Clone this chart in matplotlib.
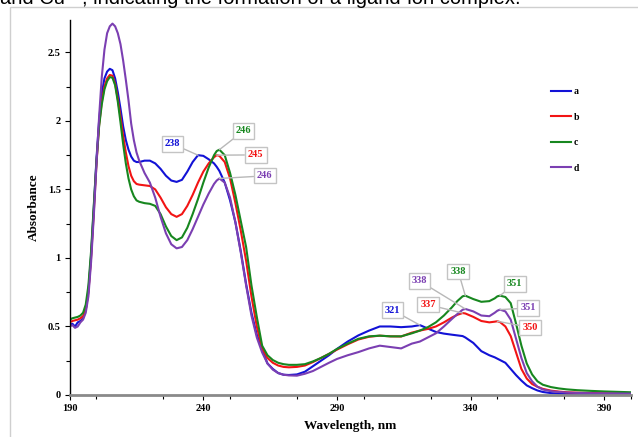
import numpy as np
import matplotlib
matplotlib.use("Agg")
import matplotlib.pyplot as plt
from matplotlib.patches import Rectangle
from matplotlib.ticker import MultipleLocator

# wavelength grid (nm) and absorbance of the four solutions
wavelength = [190, 191, 192, 193, 194, 195, 196, 197, 198, 199, 200, 201, 202, 203,
              204, 205, 206, 207, 208, 209, 210, 211, 212, 213, 214, 215, 216,
              218, 220, 222, 224, 226, 228, 230, 232, 234, 236, 238, 240, 242, 244,
              245, 246,
              248, 250, 252, 254, 256, 258, 260, 262, 264, 266, 268, 270, 272,
              275, 278, 281, 284, 287, 290,
              294, 298, 302, 306, 310, 314, 318,
              321, 324, 327, 330, 333,
              335, 337, 338,
              341, 344, 347,
              349, 350, 351,
              353, 355, 357, 359, 361, 363, 365, 367,
              370, 373, 376,
              380, 385, 390, 395, 400]

abs_a = [0.51, 0.52, 0.50, 0.53, 0.54, 0.56, 0.62, 0.76, 1.02, 1.36, 1.72, 2.00, 2.20, 2.31,
         2.36, 2.38, 2.37, 2.31, 2.21, 2.09, 1.96, 1.86, 1.79, 1.74, 1.71, 1.70, 1.70,
         1.71, 1.71, 1.69, 1.65, 1.60, 1.565, 1.555, 1.57, 1.63, 1.70, 1.75, 1.745, 1.72, 1.69,
         1.665, 1.635,
         1.55, 1.42, 1.26, 1.05, 0.81, 0.60, 0.44, 0.33, 0.23, 0.19, 0.16, 0.148, 0.146,
         0.15, 0.17, 0.21, 0.25, 0.29, 0.336,
         0.39, 0.435, 0.47, 0.50, 0.50, 0.495, 0.50,
         0.51, 0.485, 0.46, 0.448, 0.44,
         0.435, 0.43, 0.42,
         0.38, 0.32, 0.29,
         0.275, 0.265, 0.255,
         0.235, 0.19, 0.145, 0.105, 0.07, 0.05, 0.033, 0.022,
         0.014, 0.01, 0.008,
         0.006, 0.005, 0.005, 0.005, 0.005]

abs_b = [0.53, 0.54, 0.545, 0.55, 0.56, 0.575, 0.62, 0.75, 1.00, 1.33, 1.68, 1.97, 2.14, 2.25,
         2.31, 2.335, 2.33, 2.27, 2.16, 2.03, 1.89, 1.77, 1.67, 1.60, 1.56, 1.54, 1.535,
         1.53, 1.525, 1.50, 1.44, 1.37, 1.32, 1.30, 1.32, 1.38, 1.46, 1.55, 1.63, 1.69, 1.735,
         1.75, 1.745,
         1.70, 1.58, 1.40, 1.20, 0.98, 0.72, 0.50, 0.34, 0.27, 0.235, 0.215, 0.205, 0.202,
         0.205, 0.215, 0.24, 0.27, 0.30, 0.331,
         0.37, 0.405, 0.425, 0.433, 0.428, 0.427, 0.455,
         0.47, 0.482, 0.50, 0.53, 0.565,
         0.585, 0.598, 0.595,
         0.57, 0.54, 0.53,
         0.535, 0.538, 0.532,
         0.50, 0.43, 0.31, 0.19, 0.12, 0.08, 0.06, 0.045,
         0.032, 0.025, 0.02,
         0.017, 0.015, 0.013, 0.012, 0.012]

abs_c = [0.55, 0.56, 0.565, 0.57, 0.58, 0.60, 0.66, 0.80, 1.05, 1.38, 1.70, 1.96, 2.12, 2.23,
         2.29, 2.32, 2.315, 2.26, 2.14, 1.99, 1.83, 1.69, 1.58, 1.50, 1.45, 1.42, 1.41,
         1.40, 1.395, 1.38, 1.32, 1.23, 1.16, 1.13, 1.15, 1.22, 1.32, 1.43, 1.55, 1.66, 1.75,
         1.78, 1.79,
         1.75, 1.62, 1.46, 1.27, 1.08, 0.80, 0.57, 0.36, 0.29, 0.255, 0.235, 0.225, 0.22,
         0.22, 0.225, 0.245, 0.27, 0.30, 0.336,
         0.375, 0.41, 0.428, 0.433, 0.428, 0.428, 0.45,
         0.47, 0.495, 0.53, 0.58, 0.64,
         0.685, 0.72, 0.725,
         0.70, 0.68, 0.685,
         0.705, 0.72, 0.725,
         0.715, 0.67, 0.52, 0.36, 0.23, 0.15, 0.10, 0.075,
         0.058, 0.048, 0.041,
         0.035, 0.03, 0.026, 0.023, 0.02]

abs_d = [0.50, 0.51, 0.49, 0.50, 0.53, 0.55, 0.60, 0.72, 0.97, 1.30, 1.68, 2.03, 2.32, 2.52,
         2.64, 2.69, 2.71, 2.69, 2.64, 2.56, 2.44, 2.30, 2.15, 1.98, 1.86, 1.77, 1.71,
         1.62, 1.55, 1.44, 1.30, 1.18, 1.10, 1.07, 1.08, 1.13, 1.21, 1.30, 1.39, 1.47, 1.54,
         1.565, 1.58,
         1.55, 1.44, 1.26, 1.04, 0.80, 0.58, 0.42, 0.31, 0.23, 0.185, 0.16, 0.148, 0.143,
         0.141, 0.155, 0.175, 0.205, 0.235, 0.263,
         0.29, 0.313, 0.34, 0.36, 0.35, 0.34, 0.375,
         0.39, 0.42, 0.45, 0.50, 0.555,
         0.59, 0.622, 0.628,
         0.61, 0.58, 0.575,
         0.60, 0.615, 0.623,
         0.61, 0.55, 0.41, 0.27, 0.16, 0.10, 0.06, 0.04,
         0.028, 0.022, 0.018,
         0.015, 0.013, 0.012, 0.011, 0.01]

series_names = ["a", "b", "c", "d"]
series_values = [abs_a, abs_b, abs_c, abs_d]
colors = ["#1212d6", "#f21414", "#17871f", "#7b3fb2"]

# labelled band maxima: (series index, wavelength)
peak_series = [0, 2, 1, 3, 0, 3, 2, 1, 2, 3, 1]
peak_nm = [238, 246, 245, 246, 321, 338, 338, 337, 351, 351, 350]
# where each label box sits (data coordinates)
label_xy = [(228.5, 1.832), (255.0, 1.927), (259.6, 1.752), (263.0, 1.599),
            (310.8, 0.620), (320.9, 0.832), (335.4, 0.900), (324.1, 0.659),
            (356.5, 0.810), (361.6, 0.635), (362.3, 0.493)]

W, H = 638, 437
fig = plt.figure(figsize=(W / 100, H / 100), dpi=100)

fig.text(0.0, 1 - 4 / H, "and Cu²⁺, indicating the formation of a ligand-ion complex.",
         family=["Liberation Sans", "DejaVu Sans"], fontsize=14.5, va="baseline", ha="left")
fig.patches.append(Rectangle((10 / W, -0.1), 1.2, 1.1 - 7 / H, transform=fig.transFigure,
                             fill=False, edgecolor="#cfcfcf", lw=1))

ax = fig.add_axes([69.7 / W, 42 / H, (631 - 69.7) / W, (395 - 19.5) / H])
serif = ["Liberation Serif", "DejaVu Serif"]

for name, vals, col in zip(series_names, series_values, colors):
    ax.plot(wavelength, vals, color=col, lw=1.5, label=name)

for si, nm, (tx, ty) in zip(peak_series, peak_nm, label_xy):
    y = np.interp(nm, wavelength, series_values[si])
    ax.annotate(str(nm), xy=(nm, y), xytext=(tx, ty), textcoords="data",
                ha="center", va="center", color=colors[si], fontsize=7.5,
                fontweight="bold", family=serif,
                bbox=dict(boxstyle="square,pad=0.3", fc="white", ec="#c4c4c4", lw=1),
                arrowprops=dict(arrowstyle="-", color="#b8b8b8", lw=1,
                                shrinkA=0, shrinkB=0))

ax.set_xlim(190, 400)
ax.set_ylim(0, 2.74)
ax.xaxis.set_major_locator(MultipleLocator(50))
ax.xaxis.set_minor_locator(MultipleLocator(25))
ax.yaxis.set_major_locator(MultipleLocator(0.5))
ax.yaxis.set_minor_locator(MultipleLocator(0.25))
ax.set_xticks([190, 240, 290, 340, 390])
ax.set_yticks([0, 0.5, 1, 1.5, 2, 2.5])
ax.set_yticklabels(["0", "0.5", "1", "1.5", "2", "2.5"])

for s in ["top", "right"]:
    ax.spines[s].set_visible(False)
ax.spines["left"].set_color("black")
ax.spines["left"].set_linewidth(1)
ax.spines["bottom"].set_color("#8a8a8a")
ax.spines["bottom"].set_linewidth(2)

ax.tick_params(which="both", direction="out", color="black", width=0.8)
ax.tick_params(which="major", length=3.5, pad=3)
ax.tick_params(which="minor", length=3)
for lab in ax.get_xticklabels() + ax.get_yticklabels():
    lab.set_family(serif)
    lab.set_fontweight("bold")
    lab.set_fontsize(7.5)

ax.set_xlabel("Wavelength, nm", family=serif, fontweight="bold", fontsize=9.5, labelpad=5)
ax.set_ylabel("Absorbance", family=serif, fontweight="bold", fontsize=9.5, labelpad=5.5)

leg = ax.legend(loc="upper left", bbox_to_anchor=(0.842, 0.843), frameon=False,
                handlelength=2.0, labelspacing=1.7, handletextpad=0.3,
                prop=dict(family=serif, weight="bold", size=7))

fig.savefig("out.png", dpi=100)
